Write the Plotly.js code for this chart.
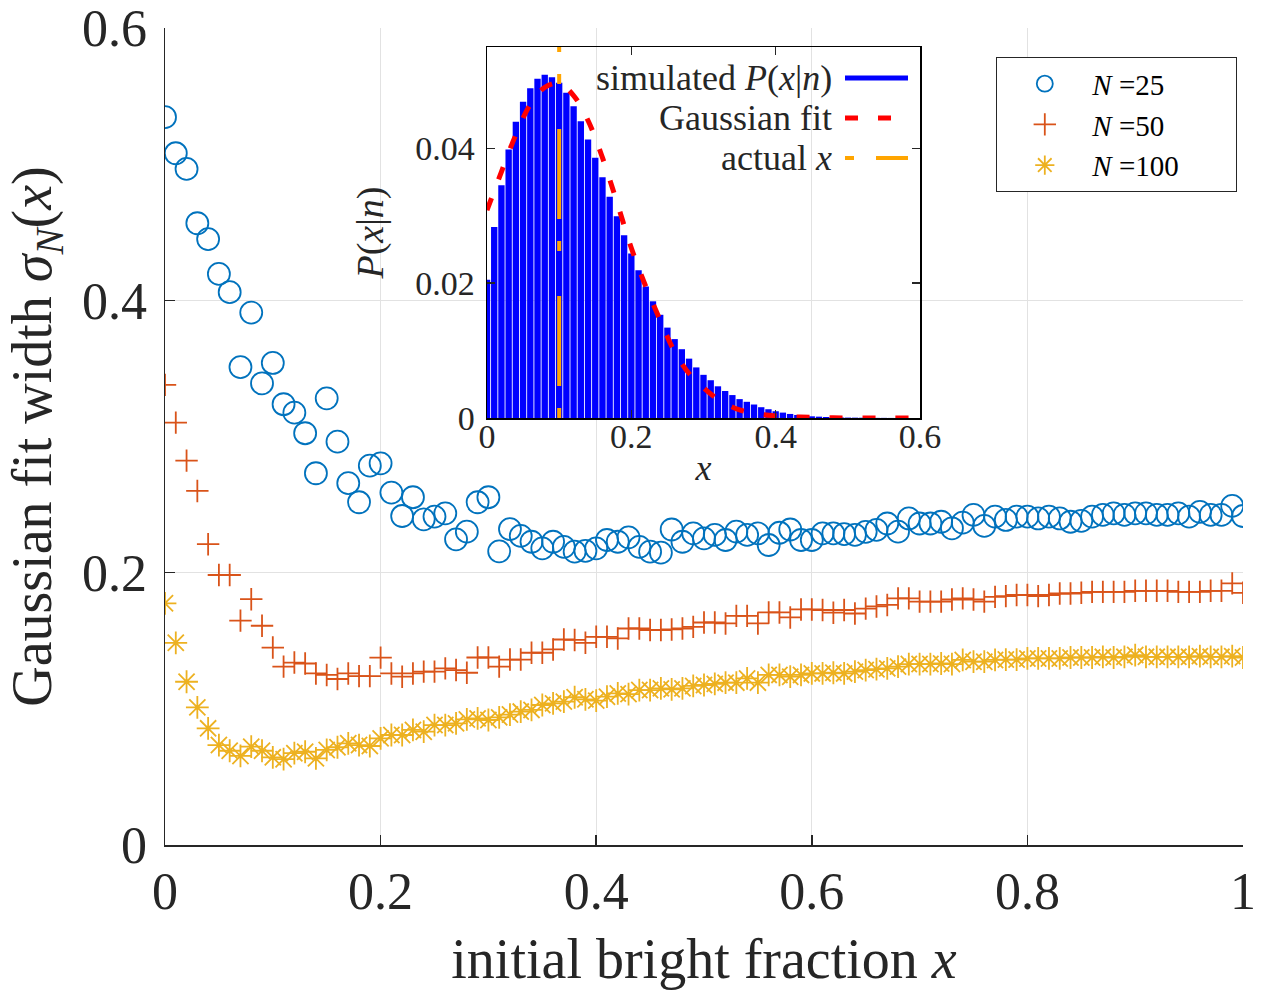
<!DOCTYPE html>
<html>
<head>
<meta charset="utf-8">
<script src="https://cdn.plot.ly/plotly-3.0.1.min.js"></script>
<style>html,body{margin:0;padding:0;background:#fff;}#chart{width:1263px;height:990px;}</style>
</head>
<body>
<div id="chart"></div>
<script>
// ---- main plot data ----
const xFrac = [0,0.01,0.02,0.03,0.04,0.05,0.06,0.07,0.08,0.09,
0.10,0.11,0.12,0.13,0.14,0.15,0.16,0.17,0.18,0.19,
0.20,0.21,0.22,0.23,0.24,0.25,0.26,0.27,0.28,0.29,
0.30,0.31,0.32,0.33,0.34,0.35,0.36,0.37,0.38,0.39,
0.40,0.41,0.42,0.43,0.44,0.45,0.46,0.47,0.48,0.49,
0.50,0.51,0.52,0.53,0.54,0.55,0.56,0.57,0.58,0.59,
0.60,0.61,0.62,0.63,0.64,0.65,0.66,0.67,0.68,0.69,
0.70,0.71,0.72,0.73,0.74,0.75,0.76,0.77,0.78,0.79,
0.80,0.81,0.82,0.83,0.84,0.85,0.86,0.87,0.88,0.89,
0.90,0.91,0.92,0.93,0.94,0.95,0.96,0.97,0.98,0.99,1.00];

const sigmaN25 = [0.5345,0.508,0.4965,0.4566,0.445,0.4194,0.406,0.351,0.391,0.339,
0.354,0.3237,0.3175,0.3024,0.273,0.328,0.2962,0.2657,0.2517,0.2786,
0.2803,0.2588,0.2416,0.2554,0.2392,0.2412,0.2436,0.2245,0.2301,0.2517,
0.2554,0.2157,0.232,0.227,0.2227,0.2179,0.2227,0.219,0.2154,0.216,
0.2179,0.224,0.2227,0.2259,0.219,0.2154,0.2147,0.2317,0.2227,0.2288,
0.2252,0.2277,0.224,0.2301,0.2277,0.2288,0.2203,0.2293,0.2317,0.224,
0.224,0.2288,0.2288,0.2283,0.2277,0.230,0.2314,0.2361,0.2301,0.2398,
0.2361,0.2361,0.2374,0.2326,0.2367,0.2424,0.2343,0.2411,0.2387,0.2411,
0.2411,0.2398,0.2411,0.2398,0.2374,0.2381,0.2411,0.2424,0.2436,0.2424,
0.2436,0.2436,0.2424,0.2424,0.2436,0.2411,0.2447,0.2424,0.2424,0.249,0.2416];

const sigmaN50 = [0.3379,0.3102,0.2823,0.26,0.2209,0.1983,0.1983,0.1648,0.1805,0.161,
0.145,0.131,0.134,0.1333,0.126,0.1249,0.1219,0.126,0.124,0.124,
0.1376,0.126,0.1236,0.126,0.1273,0.1273,0.1297,0.1285,0.1265,0.1377,
0.1377,0.131,0.1362,0.1362,0.1412,0.1412,0.1436,0.1509,0.1506,0.1485,
0.1529,0.1529,0.1517,0.159,0.159,0.1579,0.1579,0.1583,0.159,0.1602,
0.1634,0.1634,0.1627,0.1683,0.1683,0.1627,0.1708,0.1708,0.1671,0.173,
0.173,0.1726,0.1706,0.1726,0.17,0.1736,0.1752,0.1763,0.1811,0.1811,
0.1787,0.1787,0.1787,0.1803,0.1811,0.1803,0.1787,0.1822,0.1828,0.1836,
0.1836,0.1828,0.1836,0.1847,0.1847,0.1852,0.1859,0.1859,0.1859,0.1859,
0.1867,0.1867,0.1867,0.1867,0.1859,0.1859,0.1859,0.1867,0.1867,0.1921,0.1852];

const sigmaN100 = [0.1775,0.1485,0.1199,0.1011,0.0857,0.0734,0.0692,0.0654,0.0722,0.0692,
0.0644,0.063,0.0674,0.0685,0.0636,0.0698,0.0718,0.0747,0.0734,0.0727,
0.0783,0.0808,0.0808,0.0845,0.0832,0.0881,0.0881,0.0893,0.0922,0.093,
0.0918,0.0937,0.0958,0.098,0.0992,0.1028,0.104,0.1053,0.1085,0.107,
0.106,0.1089,0.1113,0.1108,0.1138,0.1138,0.115,0.1143,0.115,0.1168,
0.1175,0.1183,0.1192,0.1192,0.1223,0.1192,0.1249,0.1249,0.1236,0.1249,
0.126,0.126,0.1265,0.126,0.1273,0.1285,0.1291,0.1297,0.131,0.1329,
0.1329,0.1329,0.1333,0.1329,0.1359,0.1346,0.1346,0.1359,0.1362,0.1362,
0.137,0.137,0.137,0.137,0.1377,0.1377,0.1377,0.1382,0.1377,0.1382,
0.1395,0.1382,0.1382,0.1382,0.1382,0.1382,0.1387,0.1382,0.1382,0.1387,0.1377];

const seriesNames = ['<i>N</i> =25', '<i>N</i> =50', '<i>N</i> =100&nbsp;&nbsp;&nbsp;&nbsp;&nbsp;&nbsp;&nbsp;'];

// ---- inset data ----
const binCenters = [0,0.01,0.02,0.03,0.04,0.05,0.06,0.07,0.08,0.09,
0.10,0.11,0.12,0.13,0.14,0.15,0.16,0.17,0.18,0.19,
0.20,0.21,0.22,0.23,0.24,0.25,0.26,0.27,0.28,0.29,
0.30,0.31,0.32,0.33,0.34,0.35,0.36,0.37,0.38,0.39,
0.40,0.41,0.42,0.43,0.44,0.45,0.46,0.47,0.48,0.49,
0.50,0.51,0.52,0.53,0.54,0.55,0.56,0.57,0.58,0.59];
const pSim = [0.0205,0.0283,0.0345,0.0398,0.0439,0.0469,0.0489,0.0503,0.0509,0.0505,
0.0497,0.0482,0.0462,0.0440,0.0413,0.0386,0.0357,0.0328,0.0299,0.0271,
0.0244,0.0219,0.0195,0.0173,0.0153,0.0134,0.0117,0.0102,0.0088,0.0075,
0.0064,0.0056,0.0047,0.0040,0.0034,0.0028,0.0024,0.0020,0.0016,0.0013,
0.0010,0.0008,0.0006,0.00045,0.00035,0.00025,0.0002,0.00015,0.0001,0.00008,
0.00006,0.00005,0.00004,0.00003,0.00002,0.00002,0.00001,0.00001,0.00001,0];
const fitX = [0,0.02,0.04,0.06,0.08,0.10,0.12,0.14,0.16,0.18,0.20,0.22,0.24,0.26,0.28,0.30,0.32,0.35,0.40,0.45,0.50,0.55,0.60];
const fitY = [0.0308,0.0365,0.0420,0.0465,0.0490,0.0496,0.0478,0.0441,0.0386,0.0320,0.0252,0.0195,0.0145,0.0098,0.0066,0.0045,0.0028,0.0012,0.0003,0.0001,0,0,0];
const actualX = [0.1, 0.1];
const actualY = [0, 0.055];
const insetLegend = ['simulated <i>P</i>(<i>x</i>|<i>n</i>)', 'Gaussian fit', 'actual <i>x</i>'];

const FONT = '"Liberation Serif", "DejaVu Serif", serif';
const TXT = '#262626';
const C1 = '#0072BD', C2 = '#D95319', C3 = '#EDB120';

const traces = [
  {x: xFrac, y: sigmaN25, name: seriesNames[0], type: 'scatter', mode: 'markers',
   marker: {symbol: 'circle-open', size: 22, color: C1, line: {width: 1.8, color: C1}}, xaxis: 'x', yaxis: 'y'},
  {x: xFrac, y: sigmaN50, name: seriesNames[1], type: 'scatter', mode: 'markers',
   marker: {symbol: 'cross-thin-open', size: 16, color: C2, line: {width: 1.8, color: C2}}, xaxis: 'x', yaxis: 'y'},
  {x: xFrac, y: sigmaN100, name: seriesNames[2], type: 'scatter', mode: 'markers',
   marker: {symbol: 'asterisk-open', size: 19, color: C3, line: {width: 1.8, color: C3}}, xaxis: 'x', yaxis: 'y'},
  {x: binCenters, y: pSim, type: 'bar', showlegend: false, xaxis: 'x2', yaxis: 'y2',
   marker: {color: '#0000FF', line: {width: 0}}},
  {x: fitX, y: fitY, type: 'scatter', mode: 'lines', showlegend: false, xaxis: 'x2', yaxis: 'y2',
   line: {color: '#FF0000', width: 5, dash: '13px,20px', shape: 'spline'}},
  {x: actualX, y: actualY, type: 'scatter', mode: 'lines', showlegend: false, xaxis: 'x2', yaxis: 'y2',
   line: {color: '#FFA500', width: 4, dash: '10px,22px,90px,45px'}}
];

// px helpers for the paper coordinate system (margins l=165,r=20,t=28,b=145)
const px = v => (v - 165) / 1078;
const py = v => (845 - v) / 817;

const legY = [78, 118, 158];
const annotations = insetLegend.map((t, i) => ({
  text: t, xref: 'paper', yref: 'paper', x: px(834), y: py(legY[i]),
  xanchor: 'right', yanchor: 'middle', showarrow: false,
  font: {family: FONT, size: 36, color: TXT}
}));
const shapes = [
  {type: 'line', xref: 'paper', yref: 'paper', x0: px(845), x1: px(908), y0: py(78), y1: py(78),
   line: {color: '#0000FF', width: 5}},
  {type: 'line', xref: 'paper', yref: 'paper', x0: px(845), x1: px(908), y0: py(118), y1: py(118),
   line: {color: '#FF0000', width: 5, dash: '13px,20px'}},
  {type: 'line', xref: 'paper', yref: 'paper', x0: px(845), x1: px(908), y0: py(158), y1: py(158),
   line: {color: '#FFA500', width: 4, dash: '9px,22px,40px'}}
];

const layout = {
  width: 1263, height: 990,
  margin: {l: 165, r: 20, t: 28, b: 145},
  paper_bgcolor: '#ffffff', plot_bgcolor: 'rgba(0,0,0,0)',
  font: {family: FONT, color: TXT},
  showlegend: true,
  bargap: 0.12,
  legend: {x: px(996), y: py(57), xanchor: 'left', yanchor: 'top',
    bgcolor: '#ffffff', bordercolor: '#262626', borderwidth: 1.3,
    font: {family: FONT, size: 29, color: '#000'}, itemwidth: 85},
  xaxis: {domain: [0, 1], range: [0, 1], tickvals: [0, 0.2, 0.4, 0.6, 0.8, 1],
    ticktext: ['0', '0.2', '0.4', '0.6', '0.8', '1'],
    showgrid: true, gridcolor: '#e2e2e2', gridwidth: 1.2, zeroline: false,
    showline: true, linecolor: '#262626', linewidth: 1.5, mirror: false,
    ticks: 'inside', ticklen: 10, tickwidth: 1.5, tickcolor: '#262626',
    tickfont: {family: FONT, size: 52, color: TXT},
    title: {text: 'initial bright fraction <i>x</i>', font: {family: FONT, size: 56, color: TXT}, standoff: 22},
    anchor: 'y'},
  yaxis: {domain: [0, 1], range: [0, 0.6], tickvals: [0, 0.2, 0.4, 0.6],
    ticktext: ['0', '0.2', '0.4', '0.6'],
    showgrid: true, gridcolor: '#e2e2e2', gridwidth: 1.2, zeroline: false,
    showline: true, linecolor: '#262626', linewidth: 1.5, mirror: false,
    ticks: 'inside', ticklen: 10, tickwidth: 1.5, tickcolor: '#262626',
    ticklabelstandoff: 6,
    tickfont: {family: FONT, size: 52, color: TXT},
    title: {text: 'Gaussian fit width <i>σ</i><sub><i>N</i></sub>(<i>x</i>)', font: {family: FONT, size: 56, color: TXT}, standoff: 12},
    anchor: 'x'},
  xaxis2: {domain: [px(487), px(920)], range: [0, 0.6], anchor: 'y2',
    tickvals: [0, 0.2, 0.4, 0.6], ticktext: ['0', '0.2', '0.4', '0.6'],
    showgrid: false, zeroline: false, showline: true, linecolor: '#000', linewidth: 1.5, mirror: 'ticks',
    ticks: 'inside', ticklen: 8, tickwidth: 1.2, tickcolor: '#262626',
    ticklabelstandoff: -12,
    tickfont: {family: FONT, size: 34, color: TXT},
    title: {text: '<i>x</i>', font: {family: FONT, size: 36, color: TXT}, standoff: 0}},
  yaxis2: {domain: [py(418), py(47)], range: [0, 0.055], anchor: 'x2',
    tickvals: [0, 0.02, 0.04], ticktext: ['0', '0.02', '0.04'],
    showgrid: false, zeroline: false, showline: true, linecolor: '#000', linewidth: 1.5, mirror: 'ticks',
    ticks: 'inside', ticklen: 8, tickwidth: 1.2, tickcolor: '#262626',
    ticklabelstandoff: 4,
    tickfont: {family: FONT, size: 34, color: TXT},
    title: {text: '<i>P</i>(<i>x</i>|<i>n</i>)', font: {family: FONT, size: 38, color: TXT}, standoff: 20}},
  annotations: annotations,
  shapes: shapes
};

Plotly.newPlot('chart', traces, layout, {displayModeBar: false, staticPlot: true});
</script>
</body>
</html>
